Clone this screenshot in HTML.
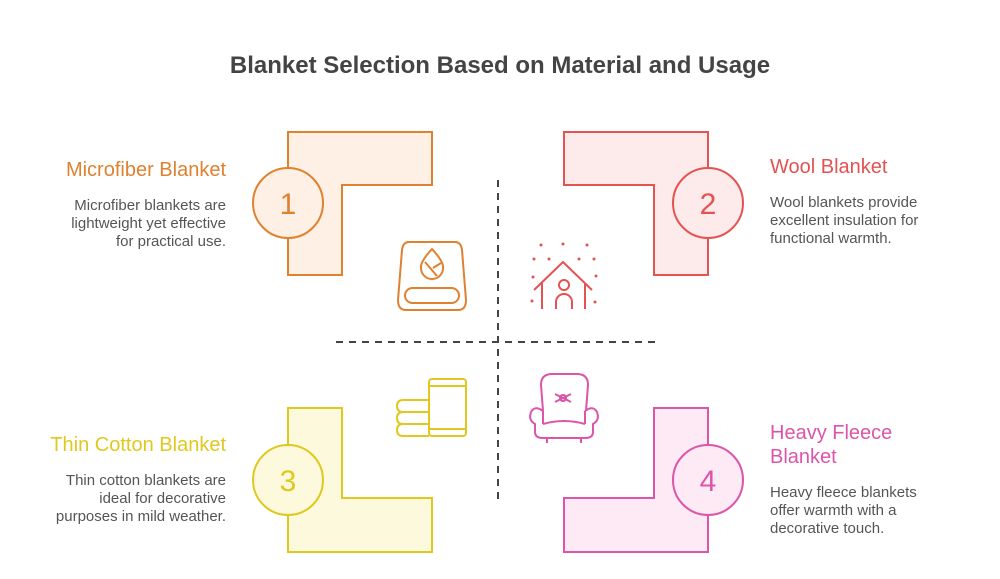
<!DOCTYPE html>
<html><head><meta charset="utf-8"><style>
html,body{margin:0;padding:0;background:#fff;}
svg{display:block;font-family:"Liberation Sans",Arial,sans-serif;}
</style></head><body>
<svg width="1000" height="579" viewBox="0 0 1000 579" xmlns="http://www.w3.org/2000/svg">
<text x="500" y="73" text-anchor="middle" font-size="24" font-weight="bold" fill="#444">Blanket Selection Based on Material and Usage</text>

<line x1="498" y1="180" x2="498" y2="505" stroke="#444" stroke-width="2" stroke-dasharray="7,6"/>
<line x1="336" y1="342" x2="660" y2="342" stroke="#444" stroke-width="2" stroke-dasharray="7,6"/>

<path d="M288,132 H432 V185 H342 V275 H288 Z" fill="#fef0e4" stroke="#e0812f" stroke-width="2"/>
<circle cx="288" cy="203" r="35" fill="#fef0e4" stroke="#e0812f" stroke-width="2"/>
<text x="288" y="214" text-anchor="middle" font-size="30" fill="#e0812f">1</text>
<path d="M564,132 H708 V275 H654 V185 H564 Z" fill="#fdeaea" stroke="#e45252" stroke-width="2"/>
<circle cx="708" cy="203" r="35" fill="#fdeaea" stroke="#e45252" stroke-width="2"/>
<text x="708" y="214" text-anchor="middle" font-size="30" fill="#e45252">2</text>
<path d="M288,408 H342 V498 H432 V552 H288 Z" fill="#fdf9dc" stroke="#e0c820" stroke-width="2"/>
<circle cx="288" cy="480" r="35" fill="#fdf9dc" stroke="#e0c820" stroke-width="2"/>
<text x="288" y="491" text-anchor="middle" font-size="30" fill="#e0c820">3</text>
<path d="M654,408 H708 V552 H564 V498 H654 Z" fill="#fdeaf5" stroke="#dc55a8" stroke-width="2"/>
<circle cx="708" cy="480" r="35" fill="#fdeaf5" stroke="#dc55a8" stroke-width="2"/>
<text x="708" y="491" text-anchor="middle" font-size="30" fill="#dc55a8">4</text>

<g fill="none" stroke="#e0812f" stroke-width="2">
<path d="M409,242 H455 Q461,242 462,250 L466,300 Q466,310 458,310 H406 Q398,310 398,300 L402,250 Q403,242 409,242 Z"/>
<rect x="405" y="288" width="54" height="15" rx="7.5"/>
<path d="M432,249 Q444,262 443,268 A11,11 0 0 1 421,268 Q420,262 432,249 Z"/>
<path d="M425,262 L437,276 M433,268 L441,263"/>
</g>
<g fill="none" stroke="#e45252" stroke-width="2">
<path d="M534,290 L563,262 L592,290 M542,283 V309 M585,283 V309"/>
<circle cx="564" cy="285" r="5"/>
<path d="M556,309 V302 A8,8 0 0 1 572,302 V309"/>
</g>
<g fill="#e45252">
<circle cx="541" cy="245" r="1.5"/><circle cx="563" cy="244" r="1.5"/><circle cx="587" cy="245" r="1.5"/>
<circle cx="534" cy="259" r="1.5"/><circle cx="549" cy="259" r="1.5"/><circle cx="579" cy="259" r="1.5"/><circle cx="594" cy="259" r="1.5"/>
<circle cx="533" cy="277" r="1.5"/><circle cx="596" cy="276" r="1.5"/>
<circle cx="532" cy="301" r="1.5"/><circle cx="595" cy="302" r="1.5"/>
</g>
<g fill="none" stroke="#e0c820" stroke-width="2">
<rect x="429" y="379" width="37" height="57" rx="3"/>
<path d="M429,386 H466 M429,429 H466"/>
<path d="M429,400 H403 Q397,400 397,406 Q397,412 403,412 H429 M403,412 Q397,412 397,418 Q397,424 403,424 H429 M403,424 Q397,424 397,430 Q397,436 403,436 H429"/>
</g>
<g fill="none" stroke="#dc55a8" stroke-width="2">
<path d="M543,411 L541,385 Q541,374 552,374 H577 Q588,374 588,385 L586,411"/>
<path d="M543,411 Q535,405 531,412 Q528,420 535,424 V432 Q535,438 543,438 H585 Q593,438 593,432 V424 Q600,420 597,412 Q593,405 585,411"/>
<path d="M543,411 V424 M585,411 V424 M543,424 Q564,418 585,424"/>
<path d="M555,394 L571,402 M555,402 L571,394"/>
<circle cx="563" cy="398" r="3"/>
<path d="M547,438 V443 M581,438 V443"/>
</g>

<g text-anchor="end">
<text x="226" y="176" font-size="20" fill="#e0812f">Microfiber Blanket</text>
<text x="226" y="210" font-size="15" fill="#555">Microfiber blankets are</text>
<text x="226" y="228" font-size="15" fill="#555">lightweight yet effective</text>
<text x="226" y="246" font-size="15" fill="#555">for practical use.</text>
<text x="226" y="451" font-size="20" fill="#e0c820">Thin Cotton Blanket</text>
<text x="226" y="485" font-size="15" fill="#555">Thin cotton blankets are</text>
<text x="226" y="503" font-size="15" fill="#555">ideal for decorative</text>
<text x="226" y="521" font-size="15" fill="#555">purposes in mild weather.</text>
</g>
<text x="770" y="173" font-size="20" fill="#e45252">Wool Blanket</text>
<text x="770" y="207" font-size="15" fill="#555">Wool blankets provide</text>
<text x="770" y="225" font-size="15" fill="#555">excellent insulation for</text>
<text x="770" y="243" font-size="15" fill="#555">functional warmth.</text>
<text x="770" y="439" font-size="20" fill="#dc55a8">Heavy Fleece</text>
<text x="770" y="463" font-size="20" fill="#dc55a8">Blanket</text>
<text x="770" y="497" font-size="15" fill="#555">Heavy fleece blankets</text>
<text x="770" y="515" font-size="15" fill="#555">offer warmth with a</text>
<text x="770" y="533" font-size="15" fill="#555">decorative touch.</text>
</svg>
</body></html>
